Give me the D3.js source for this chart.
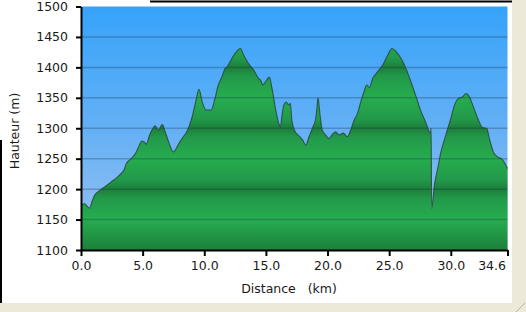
<!DOCTYPE html>
<html>
<head>
<meta charset="utf-8">
<script src="https://cdn.jsdelivr.net/npm/d3@7"></script>
<style>
    body {margin: 0; background: #ece9d8;}
    text {font-family: "DejaVu Sans", Verdana, sans-serif; font-size: 12.5px; fill: #1a1a1a;}
</style>
</head>
<body>
<div id="chart"></div>
<script>
    // profile: distance (km) / altitude (m)
    var distKm = [0.0, 0.3, 0.5, 0.7, 0.9, 1.1, 1.4, 1.65, 2.0, 2.46, 2.9, 3.27, 3.5, 3.68, 4.08, 4.4, 4.62, 4.95, 5.1, 5.3,
        5.57, 5.84, 6.0, 6.28, 6.6, 6.8, 7.1, 7.5, 7.75, 8.03, 8.3, 8.57, 8.98, 9.3, 9.57, 9.84, 10.14, 10.55, 10.87, 11.14,
        11.44, 11.68, 11.85, 12.25, 12.66, 12.93, 13.2, 13.6, 14.0, 14.4, 14.6, 14.74, 14.95, 15.28, 15.5, 15.77, 16.04, 16.17, 16.3, 16.45,
        16.66, 16.85, 16.98, 17.12, 17.39, 17.6, 17.7, 18.0, 18.23, 18.5, 18.77, 19.04, 19.15, 19.23, 19.39, 19.58, 19.85, 20.12, 20.39, 20.66,
        20.93, 21.28, 21.6, 21.88, 22.15, 22.42, 22.69, 22.96, 23.18, 23.4, 23.67, 24.07, 24.48, 24.88, 25.23, 25.56, 25.96, 26.37, 26.77, 27.18,
        27.59, 28.0, 28.26, 28.36, 28.4, 28.45, 28.67, 28.94, 29.2, 29.6, 30.0, 30.3, 30.56, 30.97, 31.24, 31.5, 31.78, 32.19, 32.6, 32.92,
        33.13, 33.45, 33.8, 34.16, 34.6];
    var altM = [1174, 1176, 1172, 1169, 1180, 1190, 1196, 1200, 1205, 1212, 1219, 1226, 1232, 1242, 1250, 1258, 1267, 1279, 1278, 1274,
        1289, 1300, 1304, 1297, 1306, 1296, 1278, 1261, 1268, 1278, 1286, 1294, 1316, 1343, 1364, 1343, 1330, 1330, 1349, 1371,
        1385, 1398, 1401, 1415, 1427, 1431, 1420, 1406, 1396, 1382, 1378, 1371, 1376, 1384, 1365, 1333, 1308, 1302, 1320, 1338,
        1343, 1338, 1341, 1311, 1294, 1289, 1287, 1280, 1272, 1286, 1300, 1316, 1335, 1350, 1322, 1297, 1289, 1283, 1290, 1294,
        1289, 1292, 1286, 1297, 1313, 1324, 1343, 1360, 1371, 1367, 1382, 1393, 1404, 1420, 1431, 1426, 1415, 1398, 1376, 1352,
        1327, 1308, 1294, 1292, 1300, 1168, 1207, 1234, 1261, 1289, 1316, 1338, 1348, 1352, 1357, 1352, 1338, 1316, 1301, 1300,
        1283, 1261, 1253, 1249, 1234];

    var xTicks = [0, 5, 10, 15, 20, 25, 30, 34.6];
    var yTicks = [1100, 1150, 1200, 1250, 1300, 1350, 1400, 1450, 1500];

    var W = 526, H = 312;
    var x = d3.scaleLinear().domain([0, 34.6]).range([81, 507.5]);
    var y = d3.scaleLinear().domain([1100, 1500]).range([250, 6.5]);

    var svg = d3.select("#chart").append("svg")
        .attr("width", W)
        .attr("height", H)

    // window background
    svg.append("rect").attr("width", W).attr("height", H).attr("fill", "#ece9d8")
    svg.append("rect").attr("width", 512).attr("height", 303).attr("fill", "#ffffff")
    svg.append("line").attr("x1", 150).attr("x2", 512).attr("y1", 1.5).attr("y2", 1.5).attr("stroke", "#000").attr("stroke-width", 2)
    svg.append("line").attr("x1", 1).attr("x2", 1).attr("y1", 140).attr("y2", 303).attr("stroke", "#000").attr("stroke-width", 2)
    // resize grip
    ;[0, 4, 8].forEach(function (k) {
        svg.append("line").attr("x1", 525 - k).attr("y1", 303 + k).attr("x2", 516 + k).attr("y2", 312 - k)
            .attr("stroke", "#b5b29f").attr("stroke-width", 1)
    })

    var defs = svg.append("defs");
    var sky = defs.append("linearGradient").attr("id", "sky")
        .attr("gradientUnits", "userSpaceOnUse")
        .attr("x1", 0).attr("x2", 0).attr("y1", y(1500)).attr("y2", y(1100))
    sky.append("stop").attr("offset", 0).attr("stop-color", "#36a3fa")
    sky.append("stop").attr("offset", 0.5).attr("stop-color", "#64b0f5")
    sky.append("stop").attr("offset", 1).attr("stop-color", "#9cc3ef")

    // banded green: darker around each 100 m line, lighter around the 50 m ones
    var green = defs.append("linearGradient").attr("id", "green")
        .attr("gradientUnits", "userSpaceOnUse")
        .attr("x1", 0).attr("x2", 0).attr("y1", y(1500)).attr("y2", y(1100))
    var span = y(1100) - y(1500);
    yTicks.slice().reverse().forEach(function (v) {
        var off = (y(v) - y(1500)) / span;
        var dark = v % 100 === 0;
        if (dark && v > 1100) green.append("stop").attr("offset", off - 9 / span).attr("stop-color", "#22994a")
        green.append("stop").attr("offset", off).attr("stop-color", dark ? "#1c7f39" : "#26ad4e")
        if (dark && v < 1500) green.append("stop").attr("offset", off + 9 / span).attr("stop-color", "#22994a")
    })

    svg.append("rect")
        .attr("x", x(0)).attr("y", y(1500))
        .attr("width", x(34.6) - x(0)).attr("height", y(1100) - y(1500))
        .attr("fill", "url(#sky)")

    var pts = distKm.map(function (d, i) { return [d, altM[i]]; });

    var area = d3.area()
        .x(function (d) { return x(d[0]); })
        .y0(y(1100))
        .y1(function (d) { return y(d[1]); })
        .curve(d3.curveMonotoneX)

    var line = d3.line()
        .x(function (d) { return x(d[0]); })
        .y(function (d) { return y(d[1]); })
        .curve(d3.curveMonotoneX)

    svg.append("path").datum(pts).attr("d", area).attr("fill", "url(#green)")

    // grid
    svg.append("g").selectAll("line")
        .data(yTicks.filter(function (v) { return v > 1100 && v < 1500; }))
        .enter().append("line")
        .attr("x1", x(0)).attr("x2", x(34.6))
        .attr("y1", function (d) { return y(d); })
        .attr("y2", function (d) { return y(d); })
        .attr("stroke", "#16324a").attr("stroke-opacity", 0.3).attr("stroke-width", 1.5)

    svg.append("path").datum(pts).attr("d", line)
        .attr("fill", "none").attr("stroke", "#2a4538").attr("stroke-opacity", 0.85).attr("stroke-width", 1.1)

    // axes
    var yAxis = svg.append("g")
        .attr("transform", "translate(" + x(0) + ",0)")
        .call(d3.axisLeft(y).tickValues(yTicks).tickSize(5).tickSizeOuter(0).tickPadding(8).tickFormat(d3.format("d")))
    var xAxis = svg.append("g")
        .attr("transform", "translate(0," + y(1100) + ")")
        .call(d3.axisBottom(x).tickValues(xTicks).tickSize(6).tickSizeOuter(0).tickPadding(5).tickFormat(d3.format(".1f")))

    svg.selectAll(".domain, .tick line").attr("stroke", "#000").attr("stroke-width", 2)
    svg.selectAll(".tick text").attr("font-family", null).attr("font-size", null)
    // last distance label sits inside the end of the axis
    xAxis.selectAll(".tick text").filter(function (d) { return d === 34.6; })
        .attr("text-anchor", "end").attr("dx", -2)

    svg.append("text")
        .attr("transform", "translate(19,131) rotate(-90)")
        .attr("text-anchor", "middle")
        .text("Hauteur (m)")

    svg.append("text")
        .attr("x", 289).attr("y", 293)
        .attr("text-anchor", "middle")
        .style("white-space", "pre")
        .text("Distance   (km)")
</script>
</body>
</html>
